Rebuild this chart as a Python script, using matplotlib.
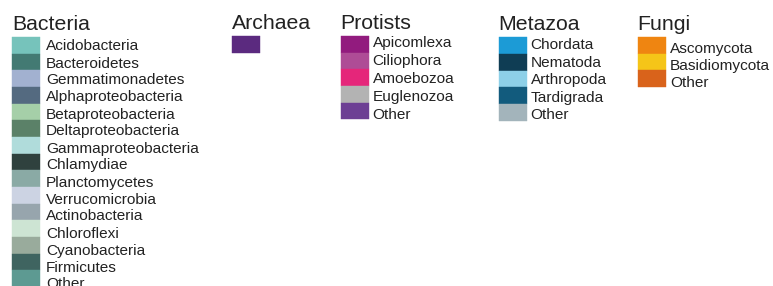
import matplotlib
matplotlib.use("Agg")
import matplotlib.pyplot as plt
from matplotlib.patches import Rectangle

plt.rcParams['font.family'] = ['Liberation Sans', 'DejaVu Sans']

bacteria_labels = ["Acidobacteria", "Bacteroidetes", "Gemmatimonadetes", "Alphaproteobacteria",
                   "Betaproteobacteria", "Deltaproteobacteria", "Gammaproteobacteria", "Chlamydiae",
                   "Planctomycetes", "Verrucomicrobia", "Actinobacteria", "Chloroflexi",
                   "Cyanobacteria", "Firmicutes", "Other"]
bacteria_colors = ["#76c3bb", "#437a73", "#a2b1d0", "#546a80", "#a5cfa8", "#5b8168", "#b0dcdb",
                   "#2f413e", "#8aaaa5", "#ccd3e3", "#97a5ad", "#cde4d3", "#99ab9c", "#3f6460",
                   "#5d9a92"]
archaea_labels = [""]
archaea_colors = ["#5b2a7f"]
protists_labels = ["Apicomlexa", "Ciliophora", "Amoebozoa", "Euglenozoa", "Other"]
protists_colors = ["#921b7e", "#ae4c96", "#e5267a", "#b3b3b3", "#6d3f94"]
metazoa_labels = ["Chordata", "Nematoda", "Arthropoda", "Tardigrada", "Other"]
metazoa_colors = ["#1c9bd6", "#0f3d54", "#8dd0e8", "#125b7d", "#a3b4bb"]
fungi_labels = ["Ascomycota", "Basidiomycota", "Other"]
fungi_colors = ["#ef8511", "#f5c518", "#d9631b"]

groups = [
    # title, labels, colors, x, swatch top, swatch step, label x, label baseline0, label step, title baseline
    ("Bacteria", bacteria_labels, bacteria_colors, 12.0, 37.0, 16.67, 46.0, 50.5, 17.0, 29.5),
    ("Archaea", archaea_labels, archaea_colors, 231.7, 36.0, 16.67, 265.0, 48.0, 17.0, 29.0),
    ("Protists", protists_labels, protists_colors, 340.5, 36.0, 16.67, 372.7, 46.8, 18.05, 29.0),
    ("Metazoa", metazoa_labels, metazoa_colors, 498.5, 37.0, 16.75, 530.7, 49.2, 17.5, 30.0),
    ("Fungi", fungi_labels, fungi_colors, 637.7, 37.0, 16.5, 670.0, 53.5, 16.7, 30.0),
]

fig = plt.figure(figsize=(7.73, 2.86), dpi=100)
ax = fig.add_axes([0, 0, 1, 1])
ax.set_xlim(0, 773)
ax.set_ylim(286, 0)
ax.axis('off')

sw_w = 28.3
txt_color = "#222222"
for title, labels, colors, x0, top0, step, lx, lb0, lstep, tb in groups:
    ax.text(x0, tb, title, fontsize=15.3, color=txt_color, va='baseline', ha='left')
    for i, (lab, col) in enumerate(zip(labels, colors)):
        ax.add_patch(Rectangle((x0, top0 + i * step), sw_w, step, facecolor=col,
                               edgecolor=col, linewidth=0.3))
        if lab:
            ax.text(lx, lb0 + i * lstep, lab, fontsize=11.1, color=txt_color,
                    va='baseline', ha='left')

fig.savefig("out.png", dpi=100)
